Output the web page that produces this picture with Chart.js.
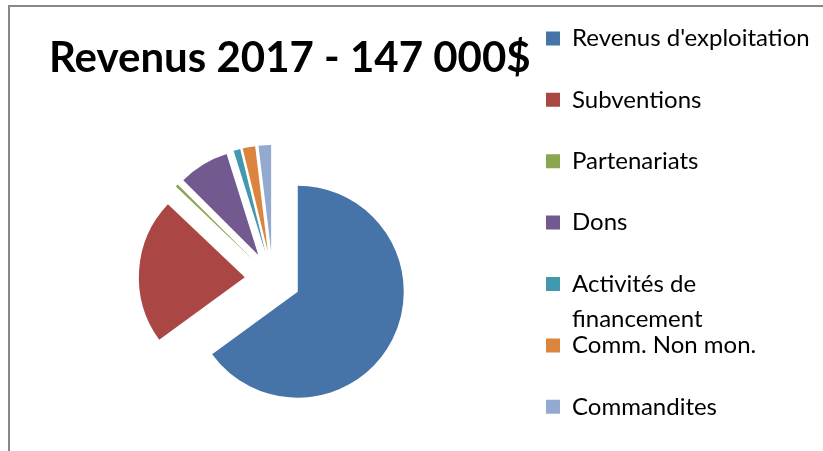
<!DOCTYPE html>
<html>
<head>
<meta charset="utf-8">
<script src="https://cdn.jsdelivr.net/npm/chart.js@4.4.0/dist/chart.umd.min.js"></script>
<style>
    html, body { margin: 0; padding: 0; background: #fff; overflow: hidden; }
    body { width: 823px; height: 451px; position: relative; }
    #cadre {
        position: absolute; left: 8px; top: 5px; width: 900px; height: 500px;
        border-left: 2px solid #878787; border-top: 2px solid #878787;
    }
    #revenus { position: absolute; left: 0; top: -11px; }
</style>
</head>
<body>
<div id="cadre"></div>
<canvas id="revenus" width="900" height="482"></canvas>
<script>
// ==============================
// DONNÉES
// ==============================
const titre = "Revenus 2017 - 147 000$";

const categories = [
    "Revenus d'exploitation",
    "Subventions",
    "Partenariats",
    "Dons",
    "Activités de financement",
    "Comm. Non mon.",
    "Commandites"
];

const montants = [95500, 32500, 600, 11300, 1500, 2800, 2800];

const couleurs = ['#4674A8', '#AA4744', '#8AA64F', '#72598F', '#4198AF', '#DB843D', '#93A9CF'];

const policeLegende = { family: 'Lato', size: 24 };
const caseLegende = 14;
const espaceLegende = 37.4;
const debutLegende = 508.6;   // bord gauche de la légende

// ==============================
// OUTILS
// ==============================

// coupe un libellé en lignes d'au plus n caractères (mots entiers)
function couper(texte, n) {
    const lignes = [];
    let courante = '';
    texte.split(' ').forEach(mot => {
        if (courante && (courante + ' ' + mot).length > n) {
            lignes.push(courante);
            courante = mot;
        } else {
            courante = courante ? courante + ' ' + mot : mot;
        }
    });
    lignes.push(courante);
    return lignes;
}

// largeur que Chart.js donnera à la légende (une colonne)
function largeurLegende() {
    const m = document.createElement('canvas').getContext('2d');
    m.font = `${policeLegende.size}px ${policeLegende.family}`;
    const texte = Math.max(...categories.map(c => m.measureText(couper(c, 22)[0]).width));
    return espaceLegende + caseLegende + policeLegende.size / 2 + texte + 10;
}

// parts "éclatées" comme dans Excel : chaque part est poussée le long de son angle médian
const eclater = {
    id: 'eclater',
    afterDatasetUpdate(chart, args, opts) {
        args.meta.data.forEach(arc => {
            const milieu = (arc.startAngle + arc.endAngle) / 2;
            arc.x += Math.cos(milieu) * opts.distance;
            arc.y += Math.sin(milieu) * opts.distance;
        });
    }
};

// la légende Chart.js n'écrit qu'une ligne par entrée : on ajoute la suite dessous
const suiteLegende = {
    id: 'suiteLegende',
    afterDraw(chart, args, opts) {
        const legende = chart.legend;
        const lab = legende.options.labels;
        const ctx = chart.ctx;
        ctx.save();
        ctx.font = `${lab.font.size}px ${lab.font.family}`;
        ctx.fillStyle = lab.color;
        ctx.textBaseline = 'middle';
        ctx.textAlign = 'left';
        legende.legendItems.forEach((item, i) => {
            const boite = legende.legendHitBoxes[i];
            (item.suite || []).forEach((ligne, k) => {
                ctx.fillText(ligne,
                    boite.left + lab.boxWidth + lab.font.size / 2,
                    boite.top + boite.height / 2 + (k + 1) * opts.interligne);
            });
        });
        ctx.restore();
    }
};

// ==============================
// GRAPHIQUE
// ==============================
const canvas = document.getElementById('revenus');
const ctx = canvas.getContext('2d');
const margeDroite = canvas.width - debutLegende - largeurLegende();

new Chart(ctx, {
    type: 'pie',
    data: {
        labels: categories,
        datasets: [{
            data: montants,
            backgroundColor: couleurs,
            borderWidth: 0
        }]
    },
    plugins: [eclater, suiteLegende],
    options: {
        responsive: false,
        animation: false,
        events: [],
        radius: 106,
        layout: { padding: { left: 49, top: 0, right: margeDroite, bottom: 0 } },
        plugins: {
            eclater: { distance: 28 },
            suiteLegende: { interligne: 35 },
            title: {
                display: true,
                text: titre,
                align: 'start',
                color: '#000',
                font: { family: 'Lato', size: 42, weight: 'bold', lineHeight: 1.2 },
                padding: { top: 44.3, bottom: 3.3 }
            },
            // sous-titre vide : simple espace entre le camembert et la légende
            subtitle: {
                display: true,
                text: '',
                position: 'right',
                weight: 900,
                padding: 0,
                font: { size: 10, lineHeight: 1.2 }
            },
            legend: {
                position: 'right',
                align: 'start',
                maxWidth: 1000,
                labels: {
                    color: '#000',
                    font: policeLegende,
                    boxWidth: caseLegende,
                    boxHeight: caseLegende,
                    padding: espaceLegende,
                    generateLabels(chart) {
                        const items = Chart.overrides.doughnut.plugins.legend.labels.generateLabels(chart);
                        return items.map(item => {
                            const lignes = couper(item.text, 22);
                            item.text = lignes[0];
                            item.suite = lignes.slice(1);
                            return item;
                        });
                    }
                }
            },
            tooltip: { enabled: false }
        }
    }
});
</script>
</body>
</html>
